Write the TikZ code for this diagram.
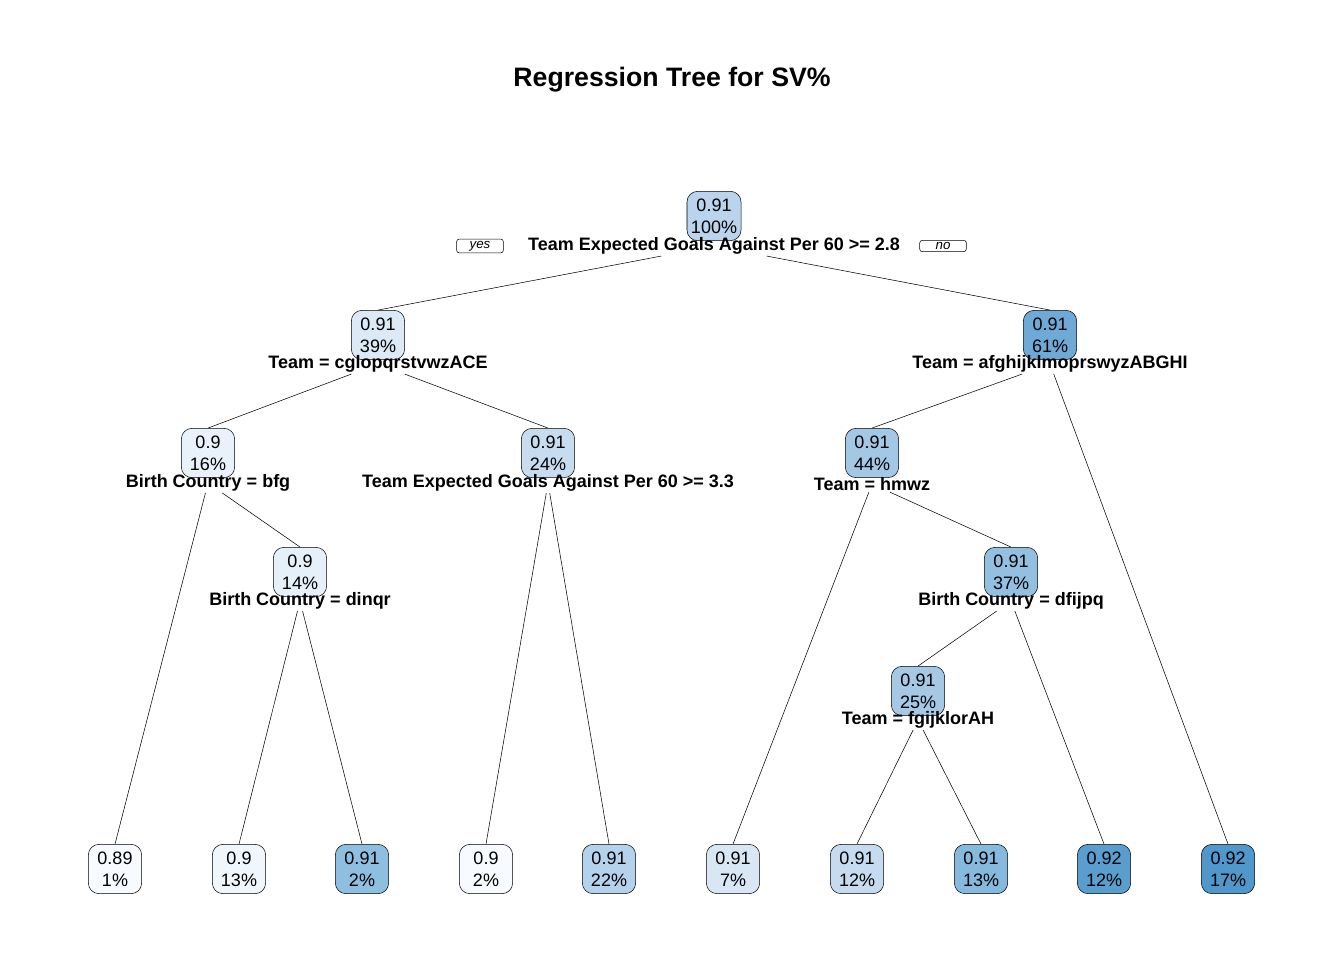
\documentclass[tikz,border=0pt]{standalone}
\usepackage{fontspec}
\setmainfont{Liberation Sans}
\usetikzlibrary{backgrounds}

\definecolor{c0}{HTML}{B9D4EC}
\definecolor{c2}{HTML}{DCE9F6}
\definecolor{c3}{HTML}{6FAAD6}
\definecolor{c4}{HTML}{E9F2FA}
\definecolor{c5}{HTML}{C8DCF0}
\definecolor{c6}{HTML}{A3C8E5}
\definecolor{c7}{HTML}{E6F0F9}
\definecolor{c8}{HTML}{93C0E1}
\definecolor{c9}{HTML}{A5C9E5}

\begin{document}
\begin{tikzpicture}[
  x=0.75pt, y=-0.75pt,
  box/.style={draw,rounded corners=8pt,align=center,inner xsep=3pt,
    minimum width=40pt,minimum height=37pt,
    font=\fontsize{13.5}{16.5}\selectfont},
  split/.style={font=\bfseries\fontsize{13.5}{16}\selectfont,inner sep=1pt},
  tag/.style={draw,rounded corners=2pt,inner sep=1.5pt,minimum width=35pt,
    font=\itshape\fontsize{10}{12}\selectfont},
  ]
  \useasboundingbox (0,0) rectangle (1344,960);
  \node[font=\bfseries\fontsize{20}{24}\selectfont] (title) at (672,80) {Regression Tree for SV\%};

  % inner nodes
  \node[box,fill=c0] (n1) at (714,216) {0.91\\100\%};
  \node[box,fill=c2] (n2) at (378,335) {0.91\\39\%};
  \node[box,fill=c3] (n3) at (1050,335) {0.91\\61\%};
  \node[box,fill=c4] (n4) at (208,453) {0.9\\16\%};
  \node[box,fill=c5] (n5) at (548,453) {0.91\\24\%};
  \node[box,fill=c6] (n6) at (872,453) {0.91\\44\%};
  \node[box,fill=c7] (n7) at (300,572) {0.9\\14\%};
  \node[box,fill=c8] (n8) at (1011,572) {0.91\\37\%};
  \node[box,fill=c9] (n9) at (918,691) {0.91\\25\%};

  % split labels
  \node[split] (l1) at (714,246) {Team Expected Goals Against Per 60 >= 2.8};
  \node[split] (l2) at (378,364) {Team = cglopqrstvwzACE};
  \node[split] (l3) at (1050,364) {Team = afghijklmoprswyzABGHI};
  \node[split] (l4) at (208,483) {Birth Country = bfg};
  \node[split] (l5) at (548,483) {Team Expected Goals Against Per 60 >= 3.3};
  \node[split] (l6) at (872,484) {Team = hmwz};
  \node[split] (l7) at (300,601) {Birth Country = dinqr};
  \node[split] (l8) at (1011,601) {Birth Country = dfijpq};
  \node[split] (l9) at (918,720) {Team = fgijklorAH};
  \node[tag] (yes) at (480,246) {yes};
  \node[tag] (no) at (943,246) {no};

  % leaves
  \foreach \i/\x/\v/\p/\c in {1/115/0.89/1/F7FBFF, 2/239/0.9/13/EFF6FC, 3/362/0.91/2/8FBFE0,
    4/486/0.9/2/F7FBFF, 5/609/0.91/22/B5D2EC, 6/733/0.91/7/D9E7F5, 7/857/0.91/12/C6DBEF,
    8/981/0.91/13/86B9DE, 9/1104/0.92/12/5A9ECF, 10/1228/0.92/17/5097CC}{
    \definecolor{lc}{HTML}{\c}
    \node[box,fill=lc] (leaf\i) at (\x,869) {\v\\\p\%};
  }

  % edges
  \begin{scope}[on background layer]
    \draw (l1) -- (n2.north);
    \draw (l1) -- (n3.north);
    \draw (l2) -- (n4.north);
    \draw (l2) -- (n5.north);
    \draw (l3) -- (n6.north);
    \draw (l3) -- (leaf10.north);
    \draw (l4) -- (leaf1.north);
    \draw (l4) -- (n7.north);
    \draw (l5) -- (leaf4.north);
    \draw (l5) -- (leaf5.north);
    \draw (l6) -- (leaf6.north);
    \draw (l6) -- (n8.north);
    \draw (l7) -- (leaf2.north);
    \draw (l7) -- (leaf3.north);
    \draw (l8) -- (n9.north);
    \draw (l8) -- (leaf9.north);
    \draw (l9) -- (leaf7.north);
    \draw (l9) -- (leaf8.north);
  \end{scope}
\end{tikzpicture}
\end{document}
